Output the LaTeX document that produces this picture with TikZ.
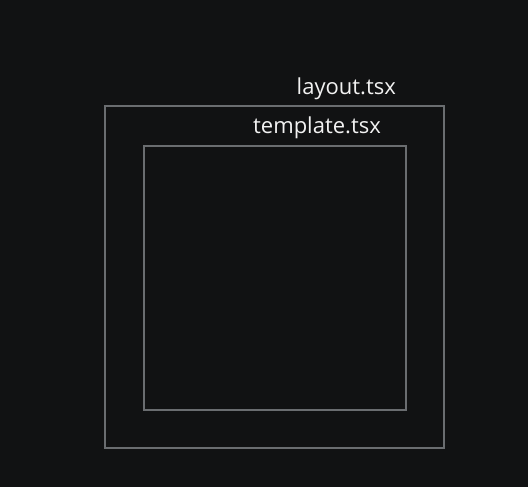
\documentclass[tikz,border=0pt]{standalone}
\usepackage{fontspec}
\setmainfont{Open Sans}
\definecolor{bgdark}{HTML}{111213}
\definecolor{framegray}{HTML}{6A6D70}
\definecolor{labelwhite}{HTML}{F2F2F2}
\tikzset{
    frame/.style={draw=framegray, line width=1.5pt},
    filelabel/.style={text=labelwhite, font=\fontsize{22}{26}\selectfont, anchor=base east, inner sep=0pt}
}
\begin{document}
\begin{tikzpicture}[x=1pt, y=-1pt]
        \fill[bgdark] (0,0) rectangle (528,487);
        \useasboundingbox (0,0) rectangle (528,487);

        % outer box
        \draw[frame] (105,106) rectangle (444,448);
        \node[filelabel] (layout) at (396,95) {layout.tsx};

        % inner box
        \draw[frame] (144,146) rectangle (406,410);
        \node[filelabel] (template) at (381,134) {template.tsx};
    \end{tikzpicture}
\end{document}
